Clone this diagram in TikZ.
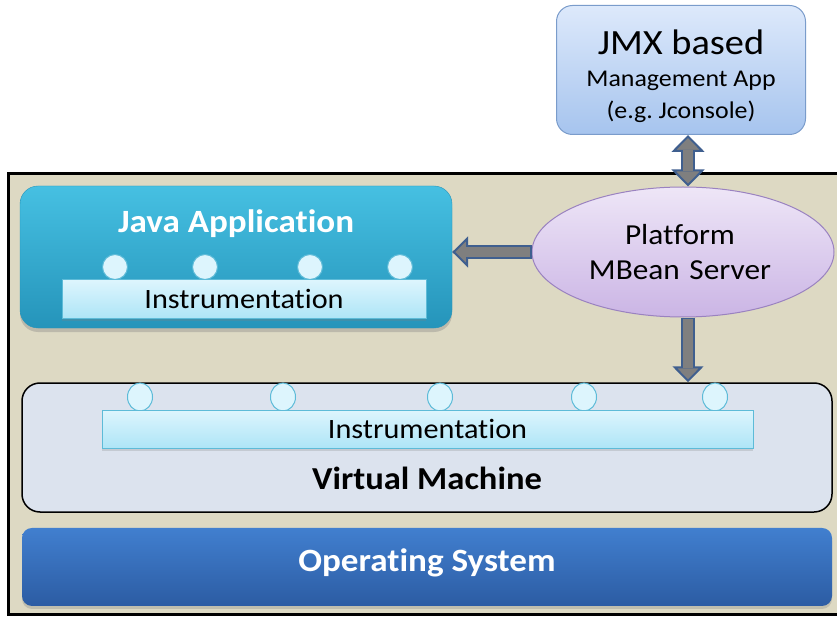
\documentclass[tikz,border=0pt]{standalone}
\usepackage{fontspec}
\setmainfont{Carlito}[FakeStretch=1.08, Ligatures=NoCommon]
\usetikzlibrary{positioning,shapes.geometric,arrows.meta,shadows}

\definecolor{frametan}{HTML}{DDD9C3}
\definecolor{arrowgray}{HTML}{7F7F7F}
\definecolor{arrowblue}{HTML}{3F5F8F}
\definecolor{jmxtop}{HTML}{DDE9FB}
\definecolor{jmxbottom}{HTML}{A6C4EE}
\definecolor{jmxline}{HTML}{7A9CCB}
\definecolor{mbstop}{HTML}{EEE6F7}
\definecolor{mbsbottom}{HTML}{CBB5E5}
\definecolor{mbsline}{HTML}{9A82C0}
\definecolor{javatop}{HTML}{46C0E2}
\definecolor{javabottom}{HTML}{2594BA}
\definecolor{instrtop}{HTML}{DDF5FD}
\definecolor{instrbottom}{HTML}{AEE5F7}
\definecolor{instrline}{HTML}{5DBBD8}
\definecolor{vmfill}{HTML}{DCE3EE}
\definecolor{ostop}{HTML}{417FCF}
\definecolor{osbottom}{HTML}{2C5CA3}

\begin{document}
\begin{tikzpicture}[
				x=1pt,y=-1pt,
				inner sep=0pt,
				node distance=15pt,
				align=center,
				layerbox/.style={rounded corners=18pt},
				instrbar/.style={draw=instrline, line width=1pt, top color=instrtop, bottom color=instrbottom,
					drop shadow={opacity=0.25, shadow xshift=0pt, shadow yshift=-3pt}},
				probe/.style={ellipse, draw=instrline, line width=1pt, fill=instrtop, minimum width=25pt, minimum height=25pt},
				fatarrow/.style={draw=arrowblue, line width=14pt,
					-{Triangle[length=16pt,width=31pt,fill=arrowgray,line width=2pt]},
					postaction={draw=arrowgray, line width=10pt, -, shorten >=14pt, shorten <=1.5pt}},
				fatboth/.style={draw=arrowblue, line width=14pt,
					{Triangle[length=17pt,width=33pt,fill=arrowgray,line width=2pt]}-{Triangle[length=17pt,width=33pt,fill=arrowgray,line width=2pt]},
					postaction={draw=arrowgray, line width=10pt, -, shorten >=15pt, shorten <=15pt}}
			]
			
			\useasboundingbox (0,0) rectangle (837,617);
			\fill[white] (0,0) rectangle (837,617);
			\draw[line width=3pt, fill=frametan] (8,174) rectangle (860,614);
			
			% management side
			\node [draw=jmxline, line width=1pt, rounded corners=16pt, top color=jmxtop, bottom color=jmxbottom,
				minimum width=249pt, minimum height=129pt] (jmx) at (681,70) {};
			\node [font=\fontsize{35.5}{38}\selectfont] (jmxtitle) at (681,42) {JMX based};
			\node [font=\fontsize{24}{26}\selectfont] (jmxsub) at (681,81) {Management App};
			\node [font=\fontsize{24}{26}\selectfont] (jmxeg) at (681,112) {(e.g.\ Jconsole)};
			
			\node [ellipse, draw=mbsline, line width=1pt, top color=mbstop, bottom color=mbsbottom,
				minimum width=302pt, minimum height=130pt] (mbs) at (683,252) {};
			\node [font=\fontsize{29}{35}\selectfont, text width=220pt] (mbstext) at (680,252) {Platform\\MBean Server};
			
			% java application
			\node [layerbox, draw=javabottom, top color=javatop, bottom color=javabottom,
				minimum width=432pt, minimum height=142pt,
				drop shadow={opacity=0.35, shadow xshift=0pt, shadow yshift=-4pt}] (java) at (236,257) {};
			\node [font=\bfseries\fontsize{32.5}{34}\selectfont, text=white] (javatitle) at (236,224) {Java Application};
			\foreach \x [count=\i] in {115,205,310,400}
				\node [probe] (jprobe\i) at (\x,267) {};
			\node [instrbar, minimum width=364pt, minimum height=38pt] (jinstr) at (244,299) {};
			\node [font=\fontsize{28}{30}\selectfont] (jinstrtext) at (jinstr) {Instrumentation};
			
			% virtual machine
			\node [layerbox, draw, line width=1.5pt, fill=vmfill, minimum width=810pt, minimum height=129pt] (vm) at (427,447.5) {};
			\foreach \x [count=\i] in {140,283,440,584,715}
				\node [probe, minimum height=28pt] (vprobe\i) at (\x,397) {};
			\node [instrbar, minimum width=651pt, minimum height=38pt] (vminstr) at (427.5,429) {};
			\node [font=\fontsize{28}{30}\selectfont] (vminstrtext) at (vminstr) {Instrumentation};
			\node [font=\bfseries\fontsize{32}{34}\selectfont] (vmtitle) at (427,478) {Virtual Machine};
			
			% operating system
			\node [rounded corners=10pt, top color=ostop, bottom color=osbottom, below=15pt of vm,
				minimum width=810pt, minimum height=78pt,
				drop shadow={opacity=0.3, shadow xshift=0pt, shadow yshift=-3pt}] (os) {};
			\node [font=\bfseries\fontsize{32.5}{34}\selectfont, text=white] (ostitle) at ([yshift=4pt]os.center) {Operating System};
			
			\draw [fatboth] ([xshift=5pt]mbs.north |- jmx.south) -- ([xshift=5pt]mbs.north);
			\draw [fatarrow] (mbs.west) -- (java.east |- mbs.west);
			\draw [fatarrow] ([xshift=5pt]mbs.south) -- ([xshift=5pt]mbs.south |- vm.north);
		\end{tikzpicture}
\end{document}
